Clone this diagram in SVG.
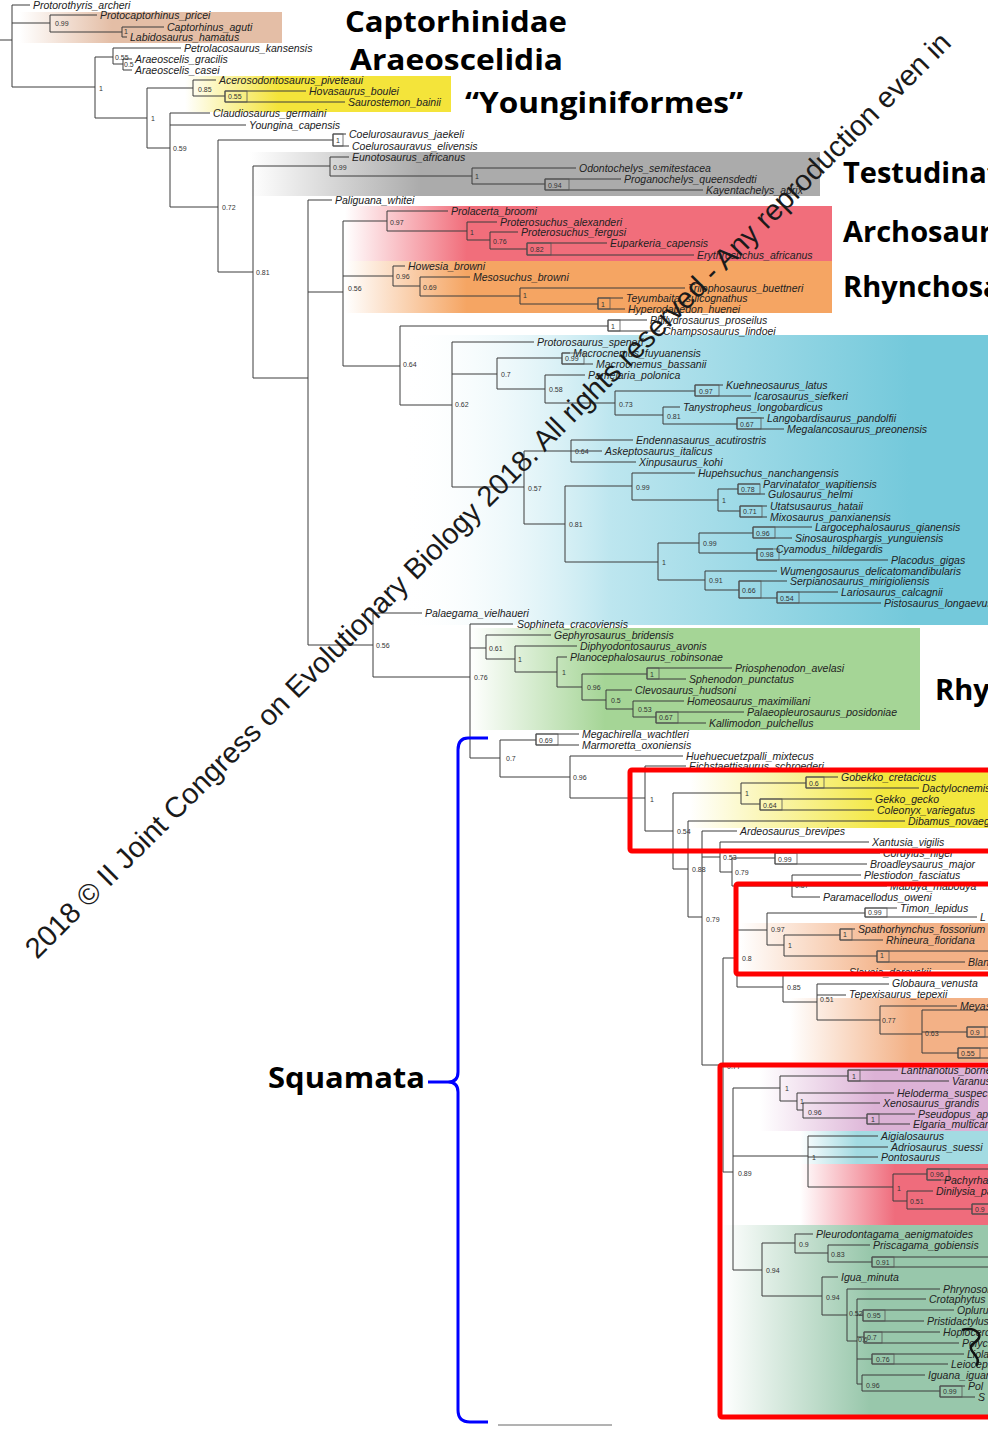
<svg xmlns="http://www.w3.org/2000/svg" width="988" height="1432" viewBox="0 0 988 1432">
<style>
.b{fill:none;stroke:#3c3c3c;stroke-width:1}
.bx{fill:none;stroke:#555;stroke-width:0.8}
.t{font-family:"Liberation Sans",Arial,sans-serif;font-style:italic;font-size:10.5px;fill:#222}
.n{font-family:"Liberation Sans",Arial,sans-serif;font-size:7px;fill:#333}
.h{font-family:"Open Sans","Liberation Sans",sans-serif;font-weight:bold;font-size:29px;fill:#000}
.rb{fill:none;stroke:#ff0000;stroke-width:5}
.wm{font-family:"Liberation Sans",Arial,sans-serif;font-size:29px;fill:#1a1a1a}
</style>
<defs>
<linearGradient id="gTan"><stop offset="0" stop-color="#e4bea6" stop-opacity="0"/><stop offset="0.35" stop-color="#e4bea6"/></linearGradient>
<linearGradient id="gYel"><stop offset="0" stop-color="#f4e43a" stop-opacity="0"/><stop offset="0.35" stop-color="#f4e43a"/></linearGradient>
<linearGradient id="gGrey"><stop offset="0" stop-color="#ababab" stop-opacity="0"/><stop offset="0.3" stop-color="#ababab"/></linearGradient>
<linearGradient id="gPink"><stop offset="0" stop-color="#f16e7b" stop-opacity="0"/><stop offset="0.25" stop-color="#f16e7b"/></linearGradient>
<linearGradient id="gOr"><stop offset="0" stop-color="#f5a563" stop-opacity="0"/><stop offset="0.25" stop-color="#f5a563"/></linearGradient>
<linearGradient id="gBlue"><stop offset="0" stop-color="#ffffff" stop-opacity="0"/><stop offset="0.35" stop-color="#bde6ef"/><stop offset="0.85" stop-color="#74c9db"/></linearGradient>
<linearGradient id="gGreen"><stop offset="0" stop-color="#a5d596" stop-opacity="0"/><stop offset="0.3" stop-color="#a5d596"/></linearGradient>
<linearGradient id="gYel2"><stop offset="0" stop-color="#f3e73e" stop-opacity="0"/><stop offset="0.65" stop-color="#f3e73e"/></linearGradient>
<linearGradient id="gOr2"><stop offset="0" stop-color="#f3b186" stop-opacity="0"/><stop offset="0.6" stop-color="#f3b186"/></linearGradient>
<linearGradient id="gPur"><stop offset="0" stop-color="#dcb2d6" stop-opacity="0"/><stop offset="0.5" stop-color="#dcb2d6"/></linearGradient>
<linearGradient id="gCyan"><stop offset="0" stop-color="#a3dbe2" stop-opacity="0"/><stop offset="0.3" stop-color="#a3dbe2"/></linearGradient>
<linearGradient id="gPink2"><stop offset="0" stop-color="#ef6c7c" stop-opacity="0"/><stop offset="0.5" stop-color="#ef6c7c"/></linearGradient>
<linearGradient id="gGreen2"><stop offset="0" stop-color="#98c7ab" stop-opacity="0"/><stop offset="0.55" stop-color="#98c7ab"/></linearGradient>
</defs>
<rect width="988" height="1432" fill="#fff"/>
<g id="backgrounds">
<rect x="20" y="12" width="262" height="31" fill="url(#gTan)"/>
<rect x="185" y="76" width="266" height="36" fill="url(#gYel)"/>
<rect x="250" y="152" width="570" height="44" fill="url(#gGrey)"/>
<rect x="345" y="206" width="487" height="55" fill="url(#gPink)"/>
<rect x="345" y="261" width="487" height="52" fill="url(#gOr)"/>
<rect x="400" y="335" width="600" height="290" fill="url(#gBlue)"/>
<rect x="470" y="628" width="450" height="102" fill="url(#gGreen)"/>
<rect x="690" y="770" width="300" height="58" fill="url(#gYel2)"/>
<rect x="740" y="923" width="250" height="47" fill="url(#gOr2)"/>
<rect x="790" y="998" width="200" height="64" fill="url(#gOr2)"/>
<rect x="760" y="1066" width="230" height="65" fill="url(#gPur)"/>
<rect x="800" y="1131" width="190" height="33" fill="url(#gCyan)"/>
<rect x="800" y="1164" width="190" height="61" fill="url(#gPink2)"/>
<rect x="722" y="1225" width="268" height="190" fill="url(#gGreen2)"/>
</g>
<g id="connectors" class="b">
<path d="M0,40H12 M12,5V87 M12,5H30 M12,23H50 M12,87H95"/>
<path d="M50,15V32 M50,15H97 M50,32H122"/>
<path d="M122,27V37 M122,27H164 M122,37H127"/>
<path d="M95,57V118 M95,57H113 M95,118H147"/>
<path d="M113,48V64 M113,48H181 M113,64H123"/>
<path d="M123,59V70 M123,59H132 M123,70H132"/>
<path d="M147,88V148 M147,88H193 M147,148H170"/>
<path d="M193,80V96 M193,80H216 M193,96H225"/>
<path d="M225,91V102 M225,91H306 M225,102H345"/>
<path d="M170,113V207 M170,113H210 M170,125H246 M170,207H218"/>
<path d="M218,140V272 M218,140H333 M218,272H253"/>
<path d="M333,134V146 M333,134H346 M333,146H349"/>
<path d="M253,166V378 M253,166H330 M253,378H308"/>
<path d="M330,157V176 M330,157H349 M330,176H472"/>
<path d="M472,168V184 M472,168H576 M472,184H545"/>
<path d="M545,179V190 M545,179H621 M545,190H703"/>
<path d="M308,200V645 M308,200H332 M308,292H343 M308,645H373"/>
<path d="M343,221V366 M343,221H387 M343,276H393 M343,366H400"/>
<path d="M387,211V231 M387,211H448 M387,231H467"/>
<path d="M467,222V240 M467,222H497 M467,240H490"/>
<path d="M490,232V249 M490,232H518 M490,249H527"/>
<path d="M527,243V255 M527,243H607 M527,255H694"/>
<path d="M393,266V286 M393,266H405 M393,286H420"/>
<path d="M420,277V296 M420,277H470 M420,296H520"/>
<path d="M520,288V304 M520,288H685 M520,304H598"/>
<path d="M598,298V309 M598,298H623 M598,309H625"/>
<path d="M400,326V405 M400,326H608 M400,405H452"/>
<path d="M608,320V331 M608,320H647 M608,331H660"/>
<path d="M452,342V487 M452,342H534 M452,374H497 M452,487H524"/>
<path d="M497,358V389 M497,358H562 M497,389H545"/>
<path d="M562,353V364 M562,353H570 M562,364H593"/>
<path d="M545,375V403 M545,375H585 M545,403H615"/>
<path d="M615,391V415 M615,391H695 M615,415H663"/>
<path d="M695,385V396 M695,385H723 M695,396H751"/>
<path d="M663,407V424 M663,407H680 M663,424H737"/>
<path d="M737,418V429 M737,418H764 M737,429H784"/>
<path d="M524,451V524 M524,451H571 M524,524H565"/>
<path d="M571,440V462 M571,440H633 M571,451H602 M571,462H636"/>
<path d="M565,486V562 M565,486H632 M565,562H658"/>
<path d="M632,473V500 M632,473H695 M632,500H718"/>
<path d="M718,489V511 M718,489H738 M718,511H740"/>
<path d="M738,484V494 M738,484H760 M738,494H765"/>
<path d="M740,506V517 M740,506H767 M740,517H767"/>
<path d="M658,543V580 M658,543H699 M658,580H705"/>
<path d="M699,533V553 M699,533H753 M699,553H757"/>
<path d="M753,527V538 M753,527H812 M753,538H792"/>
<path d="M757,549V560 M757,549H773 M757,560H888"/>
<path d="M705,571V590 M705,571H777 M705,590H739"/>
<path d="M739,581V598 M739,581H787 M739,598H777"/>
<path d="M777,592V603 M777,592H838 M777,603H881"/>
<path d="M373,613V677 M373,613H422 M373,677H470"/>
<path d="M470,624V758 M470,624H513 M470,648H486 M470,758H500"/>
<path d="M486,635V659 M486,635H551 M486,659H515"/>
<path d="M515,646V672 M515,646H577 M515,672H557"/>
<path d="M557,657V687 M557,657H567 M557,687H582"/>
<path d="M582,674V700 M582,674H647 M582,700H606"/>
<path d="M647,668V679 M647,668H732 M647,679H686"/>
<path d="M606,690V709 M606,690H632 M606,709H633"/>
<path d="M633,701V717 M633,701H684 M633,717H656"/>
<path d="M656,712V723 M656,712H744 M656,723H706"/>
<path d="M500,740V777 M500,740H536 M500,777H570"/>
<path d="M536,734V745 M536,734H579 M536,745H579"/>
<path d="M570,756V798 M570,756H683 M570,798H645"/>
<path d="M645,766V831 M645,766H686 M645,831H673"/>
<path d="M673,793V869 M673,793H741 M673,869H688"/>
<path d="M741,783V804 M741,783H806 M741,804H760"/>
<path d="M806,777V788 M806,777H838 M806,788H919"/>
<path d="M760,799V810 M760,799H872 M760,810H874"/>
<path d="M688,821V917 M688,821H905 M688,917H702"/>
<path d="M702,831V1065 M702,831H737 M702,857H720 M702,1065H723"/>
<path d="M720,842V872 M720,842H869 M720,872H732"/>
<path d="M732,858V886 M732,858H775 M732,886H792"/>
<path d="M775,853V864 M775,853H880 M775,864H867"/>
<path d="M792,875V897 M792,875H861 M792,886H887 M792,897H820"/>
<path d="M723,958V1172 M723,958H737 M723,1172H733"/>
<path d="M737,930V987 M737,930H767 M737,987H783"/>
<path d="M767,913V945 M767,913H865 M767,945H784"/>
<path d="M865,908V917 M865,908H897 M865,917H977"/>
<path d="M784,935V956 M784,935H840 M784,956H877"/>
<path d="M840,929V940 M840,929H855 M840,940H883"/>
<path d="M877,951V962 M877,951H988 M877,962H965"/>
<path d="M783,973V1002 M783,973H846 M783,1002H817"/>
<path d="M817,984V1020 M817,984H889 M817,995H846 M817,1020H880"/>
<path d="M880,1006V1034 M880,1006H957 M880,1034H922"/>
<path d="M922,1010V1053 M922,1010H988 M922,1032H967 M922,1053H958"/>
<path d="M967,1027V1037 M967,1027H988 M967,1037H988"/>
<path d="M958,1048V1058 M958,1048H988 M958,1058H988"/>
<path d="M733,1088V1270 M733,1088H780 M733,1156H808 M733,1270H762"/>
<path d="M780,1076V1101 M780,1076H848 M780,1101H797"/>
<path d="M848,1070V1081 M848,1070H898 M848,1081H949"/>
<path d="M797,1093V1110 M797,1093H894 M797,1110H803"/>
<path d="M803,1103V1118 M803,1103H880 M803,1118H867"/>
<path d="M867,1114V1124 M867,1114H915 M867,1124H910"/>
<path d="M808,1136V1187 M808,1136H878 M808,1147H888 M808,1157H878 M808,1187H893"/>
<path d="M893,1174V1201 M893,1174H927 M893,1201H907"/>
<path d="M927,1169V1180 M927,1169H988 M927,1180H941"/>
<path d="M907,1191V1209 M907,1191H933 M907,1209H972"/>
<path d="M972,1204V1214 M972,1204H988 M972,1214H988"/>
<path d="M762,1243V1296 M762,1243H795 M762,1296H822"/>
<path d="M795,1234V1253 M795,1234H813 M795,1253H828"/>
<path d="M828,1245V1262 M828,1245H870 M828,1262H872"/>
<path d="M872,1257V1267 M872,1257H988 M872,1267H988"/>
<path d="M822,1277V1315 M822,1277H838 M822,1315H847"/>
<path d="M847,1289V1341 M847,1289H940 M847,1341H857"/>
<path d="M857,1299V1384 M857,1299H926 M857,1315H863 M857,1337H864 M857,1359H872 M857,1384H862"/>
<path d="M863,1310V1321 M863,1310H954 M863,1321H924"/>
<path d="M864,1332V1343 M864,1332H940 M864,1343H959"/>
<path d="M872,1354V1364 M872,1354H964 M872,1364H948"/>
<path d="M862,1375V1391 M862,1375H925 M862,1391H940"/>
<path d="M940,1386V1397 M940,1386H965 M940,1397H975"/>
<path d="M498,1425H612" stroke="#666"/>
</g>
<g id="support-boxes" class="bx">
<rect x="225" y="91" width="22" height="11"/>
<rect x="333" y="134" width="10" height="12"/>
<rect x="545" y="179" width="24" height="11"/>
<rect x="527" y="243" width="24" height="12"/>
<rect x="598" y="298" width="12" height="11"/>
<rect x="608" y="320" width="12" height="11"/>
<rect x="562" y="353" width="22" height="11"/>
<rect x="695" y="385" width="24" height="11"/>
<rect x="737" y="418" width="24" height="11"/>
<rect x="738" y="484" width="22" height="10"/>
<rect x="740" y="506" width="22" height="11"/>
<rect x="753" y="527" width="22" height="11"/>
<rect x="757" y="549" width="22" height="11"/>
<rect x="739" y="581" width="22" height="17"/>
<rect x="777" y="592" width="22" height="11"/>
<rect x="647" y="668" width="12" height="11"/>
<rect x="656" y="712" width="22" height="11"/>
<rect x="536" y="734" width="22" height="11"/>
<rect x="806" y="777" width="18" height="11"/>
<rect x="760" y="799" width="22" height="11"/>
<rect x="775" y="853" width="22" height="11"/>
<rect x="865" y="908" width="22" height="9"/>
<rect x="840" y="929" width="12" height="11"/>
<rect x="877" y="951" width="12" height="11"/>
<rect x="967" y="1027" width="18" height="10"/>
<rect x="958" y="1048" width="22" height="10"/>
<rect x="848" y="1070" width="12" height="11"/>
<rect x="867" y="1114" width="12" height="10"/>
<rect x="927" y="1169" width="22" height="11"/>
<rect x="972" y="1204" width="18" height="10"/>
<rect x="872" y="1257" width="22" height="10"/>
<rect x="863" y="1310" width="22" height="11"/>
<rect x="864" y="1332" width="18" height="11"/>
<rect x="872" y="1354" width="22" height="10"/>
<rect x="940" y="1386" width="22" height="11"/>
</g>
<g id="support-values" class="n">
<text x="55" y="26">0.99</text><text x="124" y="34">1</text><text x="115" y="60">0.55</text><text x="124" y="67">0.5</text>
<text x="99" y="91">1</text><text x="198" y="92">0.85</text><text x="228" y="99">0.55</text><text x="151" y="121">1</text>
<text x="173" y="151">0.59</text><text x="336" y="143">1</text><text x="222" y="210">0.72</text><text x="333" y="170">0.99</text>
<text x="475" y="179">1</text><text x="548" y="188">0.94</text><text x="256" y="275">0.81</text><text x="390" y="225">0.97</text>
<text x="470" y="235">1</text><text x="493" y="244">0.76</text><text x="530" y="252">0.82</text><text x="348" y="291">0.56</text>
<text x="396" y="279">0.96</text><text x="423" y="290">0.69</text><text x="523" y="298">1</text><text x="601" y="307">1</text>
<text x="611" y="329">1</text><text x="403" y="367">0.64</text><text x="455" y="407">0.62</text><text x="565" y="361">0.99</text>
<text x="501" y="377">0.7</text><text x="549" y="392">0.58</text><text x="699" y="394">0.97</text><text x="619" y="407">0.73</text>
<text x="667" y="419">0.81</text><text x="740" y="427">0.67</text><text x="575" y="454">0.64</text><text x="528" y="491">0.57</text>
<text x="636" y="490">0.99</text><text x="741" y="492">0.78</text><text x="722" y="503">1</text><text x="743" y="514">0.71</text>
<text x="569" y="527">0.81</text><text x="756" y="536">0.96</text><text x="703" y="546">0.99</text><text x="760" y="557">0.98</text>
<text x="662" y="565">1</text><text x="709" y="583">0.91</text><text x="742" y="593">0.66</text><text x="780" y="601">0.54</text>
<text x="376" y="648">0.56</text><text x="489" y="651">0.61</text><text x="518" y="662">1</text><text x="650" y="677">1</text>
<text x="562" y="675">1</text><text x="474" y="680">0.76</text><text x="587" y="690">0.96</text><text x="611" y="703">0.5</text>
<text x="638" y="712">0.53</text><text x="659" y="720">0.67</text><text x="539" y="743">0.69</text><text x="506" y="761">0.7</text>
<text x="573" y="780">0.96</text><text x="809" y="786">0.6</text><text x="650" y="802">1</text><text x="745" y="796">1</text>
<text x="763" y="808">0.64</text><text x="677" y="834">0.54</text><text x="723" y="860">0.53</text><text x="778" y="862">0.99</text>
<text x="692" y="872">0.88</text><text x="735" y="875">0.79</text><text x="795" y="888">0.87</text><text x="868" y="915">0.99</text>
<text x="706" y="922">0.79</text><text x="771" y="932">0.97</text><text x="843" y="937">1</text><text x="788" y="948">1</text>
<text x="742" y="961">0.8</text><text x="880" y="958">1</text><text x="787" y="990">0.85</text><text x="820" y="1002">0.51</text>
<text x="882" y="1023">0.77</text><text x="925" y="1036">0.63</text><text x="970" y="1035">0.9</text><text x="961" y="1056">0.55</text>
<text x="727" y="1069">0.77</text><text x="852" y="1079">1</text><text x="785" y="1091">1</text><text x="800" y="1104">1</text>
<text x="808" y="1115">0.96</text><text x="871" y="1122">1</text><text x="812" y="1160">1</text><text x="738" y="1176">0.89</text>
<text x="930" y="1177">0.96</text><text x="897" y="1191">1</text><text x="910" y="1204">0.51</text><text x="975" y="1212">0.9</text>
<text x="799" y="1247">0.9</text><text x="831" y="1257">0.83</text><text x="876" y="1265">0.91</text><text x="766" y="1273">0.94</text>
<text x="826" y="1300">0.94</text><text x="849" y="1316">0.52</text><text x="867" y="1318">0.95</text><text x="858" y="1342">0.6</text>
<text x="867" y="1340">0.7</text><text x="876" y="1362">0.76</text><text x="866" y="1388">0.96</text><text x="943" y="1394">0.99</text>
</g>
<g id="taxa" class="t">
<g id="t-Protorothyris_archeri"><text x="33" y="9">Protorothyris_archeri</text></g>
<g id="t-Protocaptorhinus_pricei"><text x="100" y="19">Protocaptorhinus_pricei</text></g>
<g id="t-Captorhinus_aguti"><text x="167" y="31">Captorhinus_aguti</text></g>
<g id="t-Labidosaurus_hamatus"><text x="130" y="41">Labidosaurus_hamatus</text></g>
<g id="t-Petrolacosaurus_kansensis"><text x="184" y="52">Petrolacosaurus_kansensis</text></g>
<g id="t-Araeoscelis_gracilis"><text x="135" y="63">Araeoscelis_gracilis</text></g>
<g id="t-Araeoscelis_casei"><text x="135" y="74">Araeoscelis_casei</text></g>
<g id="t-Acerosodontosaurus_piveteaui"><text x="219" y="84">Acerosodontosaurus_piveteaui</text></g>
<g id="t-Hovasaurus_boulei"><text x="309" y="95">Hovasaurus_boulei</text></g>
<g id="t-Saurostemon_bainii"><text x="348" y="106">Saurostemon_bainii</text></g>
<g id="t-Claudiosaurus_germaini"><text x="213" y="117">Claudiosaurus_germaini</text></g>
<g id="t-Youngina_capensis"><text x="249" y="129">Youngina_capensis</text></g>
<g id="t-Coelurosauravus_jaekeli"><text x="349" y="138">Coelurosauravus_jaekeli</text></g>
<g id="t-Coelurosauravus_elivensis"><text x="352" y="150">Coelurosauravus_elivensis</text></g>
<g id="t-Eunotosaurus_africanus"><text x="352" y="161">Eunotosaurus_africanus</text></g>
<g id="t-Odontochelys_semitestacea"><text x="579" y="172">Odontochelys_semitestacea</text></g>
<g id="t-Proganochelys_queensdedti"><text x="624" y="183">Proganochelys_queensdedti</text></g>
<g id="t-Kayentachelys_aprix"><text x="706" y="194">Kayentachelys_aprix</text></g>
<g id="t-Paliguana_whitei"><text x="335" y="204">Paliguana_whitei</text></g>
<g id="t-Prolacerta_broomi"><text x="451" y="215">Prolacerta_broomi</text></g>
<g id="t-Proterosuchus_alexanderi"><text x="500" y="226">Proterosuchus_alexanderi</text></g>
<g id="t-Proterosuchus_fergusi"><text x="521" y="236">Proterosuchus_fergusi</text></g>
<g id="t-Euparkeria_capensis"><text x="610" y="247">Euparkeria_capensis</text></g>
<g id="t-Erythrosuchus_africanus"><text x="697" y="259">Erythrosuchus_africanus</text></g>
<g id="t-Howesia_browni"><text x="408" y="270">Howesia_browni</text></g>
<g id="t-Mesosuchus_browni"><text x="473" y="281">Mesosuchus_browni</text></g>
<g id="t-Trilophosaurus_buettneri"><text x="688" y="292">Trilophosaurus_buettneri</text></g>
<g id="t-Teyumbaita_sulcognathus"><text x="626" y="302">Teyumbaita_sulcognathus</text></g>
<g id="t-Hyperodapedon_huenei"><text x="628" y="313">Hyperodapedon_huenei</text></g>
<g id="t-Philydrosaurus_proseilus"><text x="650" y="324">Philydrosaurus_proseilus</text></g>
<g id="t-Champsosaurus_lindoei"><text x="663" y="335">Champsosaurus_lindoei</text></g>
<g id="t-Protorosaurus_speneri"><text x="537" y="346">Protorosaurus_speneri</text></g>
<g id="t-Macrocnemus_fuyuanensis"><text x="573" y="357">Macrocnemus_fuyuanensis</text></g>
<g id="t-Macrocnemus_bassanii"><text x="596" y="368">Macrocnemus_bassanii</text></g>
<g id="t-Pamelaria_polonica"><text x="588" y="379">Pamelaria_polonica</text></g>
<g id="t-Kuehneosaurus_latus"><text x="726" y="389">Kuehneosaurus_latus</text></g>
<g id="t-Icarosaurus_siefkeri"><text x="754" y="400">Icarosaurus_siefkeri</text></g>
<g id="t-Tanystropheus_longobardicus"><text x="683" y="411">Tanystropheus_longobardicus</text></g>
<g id="t-Langobardisaurus_pandolfii"><text x="767" y="422">Langobardisaurus_pandolfii</text></g>
<g id="t-Megalancosaurus_preonensis"><text x="787" y="433">Megalancosaurus_preonensis</text></g>
<g id="t-Endennasaurus_acutirostris"><text x="636" y="444">Endennasaurus_acutirostris</text></g>
<g id="t-Askeptosaurus_italicus"><text x="605" y="455">Askeptosaurus_italicus</text></g>
<g id="t-Xinpusaurus_kohi"><text x="639" y="466">Xinpusaurus_kohi</text></g>
<g id="t-Hupehsuchus_nanchangensis"><text x="698" y="477">Hupehsuchus_nanchangensis</text></g>
<g id="t-Parvinatator_wapitiensis"><text x="763" y="488">Parvinatator_wapitiensis</text></g>
<g id="t-Gulosaurus_helmi"><text x="768" y="498">Gulosaurus_helmi</text></g>
<g id="t-Utatsusaurus_hataii"><text x="770" y="510">Utatsusaurus_hataii</text></g>
<g id="t-Mixosaurus_panxianensis"><text x="770" y="521">Mixosaurus_panxianensis</text></g>
<g id="t-Largocephalosaurus_qianensis"><text x="815" y="531">Largocephalosaurus_qianensis</text></g>
<g id="t-Sinosaurosphargis_yunguiensis"><text x="795" y="542">Sinosaurosphargis_yunguiensis</text></g>
<g id="t-Cyamodus_hildegardis"><text x="776" y="553">Cyamodus_hildegardis</text></g>
<g id="t-Placodus_gigas"><text x="891" y="564">Placodus_gigas</text></g>
<g id="t-Wumengosaurus_delicatomandibularis"><text x="780" y="575">Wumengosaurus_delicatomandibularis</text></g>
<g id="t-Serpianosaurus_mirigioliensis"><text x="790" y="585">Serpianosaurus_mirigioliensis</text></g>
<g id="t-Lariosaurus_calcagnii"><text x="841" y="596">Lariosaurus_calcagnii</text></g>
<g id="t-Pistosaurus_longaevus"><text x="884" y="607">Pistosaurus_longaevus</text></g>
<g id="t-Palaegama_vielhaueri"><text x="425" y="617">Palaegama_vielhaueri</text></g>
<g id="t-Sophineta_cracoviensis"><text x="517" y="628">Sophineta_cracoviensis</text></g>
<g id="t-Gephyrosaurus_bridensis"><text x="554" y="639">Gephyrosaurus_bridensis</text></g>
<g id="t-Diphyodontosaurus_avonis"><text x="580" y="650">Diphyodontosaurus_avonis</text></g>
<g id="t-Planocephalosaurus_robinsonae"><text x="570" y="661">Planocephalosaurus_robinsonae</text></g>
<g id="t-Priosphenodon_avelasi"><text x="735" y="672">Priosphenodon_avelasi</text></g>
<g id="t-Sphenodon_punctatus"><text x="689" y="683">Sphenodon_punctatus</text></g>
<g id="t-Clevosaurus_hudsoni"><text x="635" y="694">Clevosaurus_hudsoni</text></g>
<g id="t-Homeosaurus_maximiliani"><text x="687" y="705">Homeosaurus_maximiliani</text></g>
<g id="t-Palaeopleurosaurus_posidoniae"><text x="747" y="716">Palaeopleurosaurus_posidoniae</text></g>
<g id="t-Kallimodon_pulchellus"><text x="709" y="727">Kallimodon_pulchellus</text></g>
<g id="t-Megachirella_wachtleri"><text x="582" y="738">Megachirella_wachtleri</text></g>
<g id="t-Marmoretta_oxoniensis"><text x="582" y="749">Marmoretta_oxoniensis</text></g>
<g id="t-Huehuecuetzpalli_mixtecus"><text x="686" y="760">Huehuecuetzpalli_mixtecus</text></g>
<g id="t-Eichstaettisaurus_schroederi"><text x="689" y="770">Eichstaettisaurus_schroederi</text></g>
<g id="t-Gobekko_cretacicus"><text x="841" y="781">Gobekko_cretacicus</text></g>
<g id="t-Dactylocnemis"><text x="922" y="792">Dactylocnemis</text></g>
<g id="t-Gekko_gecko"><text x="875" y="803">Gekko_gecko</text></g>
<g id="t-Coleonyx_variegatus"><text x="877" y="814">Coleonyx_variegatus</text></g>
<g id="t-Dibamus_novaeguineae"><text x="908" y="825">Dibamus_novaeguineae</text></g>
<g id="t-Ardeosaurus_brevipes"><text x="740" y="835">Ardeosaurus_brevipes</text></g>
<g id="t-Xantusia_vigilis"><text x="872" y="846">Xantusia_vigilis</text></g>
<g id="t-Cordylus_niger"><text x="883" y="857">Cordylus_niger</text></g>
<g id="t-Broadleysaurus_major"><text x="870" y="868">Broadleysaurus_major</text></g>
<g id="t-Plestiodon_fasciatus"><text x="864" y="879">Plestiodon_fasciatus</text></g>
<g id="t-Mabuya_mabouya"><text x="890" y="890">Mabuya_mabouya</text></g>
<g id="t-Paramacellodus_oweni"><text x="823" y="901">Paramacellodus_oweni</text></g>
<g id="t-Timon_lepidus"><text x="900" y="912">Timon_lepidus</text></g>
<g id="t-L"><text x="980" y="921">L</text></g>
<g id="t-Spathorhynchus_fossorium"><text x="858" y="933">Spathorhynchus_fossorium</text></g>
<g id="t-Rhineura_floridana"><text x="886" y="944">Rhineura_floridana</text></g>
<g id="t-Blanus"><text x="968" y="966">Blanus</text></g>
<g id="t-Slavoia_darevskii"><text x="849" y="976">Slavoia_darevskii</text></g>
<g id="t-Globaura_venusta"><text x="892" y="987">Globaura_venusta</text></g>
<g id="t-Tepexisaurus_tepexii"><text x="849" y="998">Tepexisaurus_tepexii</text></g>
<g id="t-Meyasaurus"><text x="960" y="1010">Meyasaurus</text></g>
<g id="t-Lanthanotus_borneensis"><text x="901" y="1074">Lanthanotus_borneensis</text></g>
<g id="t-Varanus"><text x="952" y="1085">Varanus</text></g>
<g id="t-Heloderma_suspectum"><text x="897" y="1097">Heloderma_suspectum</text></g>
<g id="t-Xenosaurus_grandis"><text x="883" y="1107">Xenosaurus_grandis</text></g>
<g id="t-Pseudopus_apodus"><text x="918" y="1118">Pseudopus_apodus</text></g>
<g id="t-Elgaria_multicarinata"><text x="913" y="1128">Elgaria_multicarinata</text></g>
<g id="t-Aigialosaurus"><text x="881" y="1140">Aigialosaurus</text></g>
<g id="t-Adriosaurus_suessi"><text x="891" y="1151">Adriosaurus_suessi</text></g>
<g id="t-Pontosaurus"><text x="881" y="1161">Pontosaurus</text></g>
<g id="t-Pachyrhachis"><text x="944" y="1184">Pachyrhachis</text></g>
<g id="t-Dinilysia_patagonica"><text x="936" y="1195">Dinilysia_patagonica</text></g>
<g id="t-Pleurodontagama_aenigmatoides"><text x="816" y="1238">Pleurodontagama_aenigmatoides</text></g>
<g id="t-Priscagama_gobiensis"><text x="873" y="1249">Priscagama_gobiensis</text></g>
<g id="t-Igua_minuta"><text x="841" y="1281">Igua_minuta</text></g>
<g id="t-Phrynosoma"><text x="943" y="1293">Phrynosoma</text></g>
<g id="t-Crotaphytus"><text x="929" y="1303">Crotaphytus</text></g>
<g id="t-Oplurus"><text x="957" y="1314">Oplurus</text></g>
<g id="t-Pristidactylus"><text x="927" y="1325">Pristidactylus</text></g>
<g id="t-Hoplocercus"><text x="943" y="1336">Hoplocercus</text></g>
<g id="t-Polychrus"><text x="962" y="1347">Polychrus</text></g>
<g id="t-Liolaemus"><text x="967" y="1358">Liolaemus</text></g>
<g id="t-Leiocephalus"><text x="951" y="1368">Leiocephalus</text></g>
<g id="t-Iguana_iguana"><text x="928" y="1379">Iguana_iguana</text></g>
<g id="t-Pol"><text x="968" y="1390">Pol</text></g>
<g id="t-S"><text x="978" y="1401">S</text></g>
</g>
<g id="highlights">
<rect class="rb" x="630" y="770" width="370" height="81" rx="2"/>
<rect class="rb" x="736" y="884" width="262" height="90" rx="2"/>
<rect class="rb" x="720" y="1065" width="280" height="352" rx="2"/>
<path d="M962,1330 C976,1326 986,1336 974,1343 C963,1350 984,1356 976,1366" fill="none" stroke="#111" stroke-width="2.5"/>
<path id="squamata-bracket" d="M488,738 H468 Q458,738 458,750 V1072 Q458,1082 448,1082 H428 M448,1082 Q458,1082 458,1092 V1410 Q458,1422 470,1422 H488" fill="none" stroke="#0000ff" stroke-width="3"/>
</g>
<g id="clade-labels" class="h">
<g id="lbl-Captorhinidae"><text x="345" y="32" textLength="222" lengthAdjust="spacingAndGlyphs">Captorhinidae</text></g>
<g id="lbl-Araeoscelidia"><text x="350" y="70" textLength="213" lengthAdjust="spacingAndGlyphs">Araeoscelidia</text></g>
<g id="lbl-Younginiformes"><text x="465" y="113" textLength="278" lengthAdjust="spacingAndGlyphs">“Younginiformes”</text></g>
<g id="lbl-Testudinata"><text x="843" y="183">Testudinata</text></g>
<g id="lbl-Archosauria"><text x="843" y="242">Archosauria</text></g>
<g id="lbl-Rhynchosauria"><text x="843" y="297">Rhynchosauria</text></g>
<g id="lbl-Rhynchocephalia"><text x="935" y="700">Rhynchocephalia</text></g>
<g id="lbl-Squamata"><text x="268" y="1088" textLength="157" lengthAdjust="spacingAndGlyphs">Squamata</text></g>
</g>
<g id="watermark">
<text class="wm" x="37" y="960" transform="rotate(-45 37 960)">2018 © II Joint Congress on Evolutionary Biology 2018. All rights reserved - Any reproduction even in</text>
</g>
</svg>
